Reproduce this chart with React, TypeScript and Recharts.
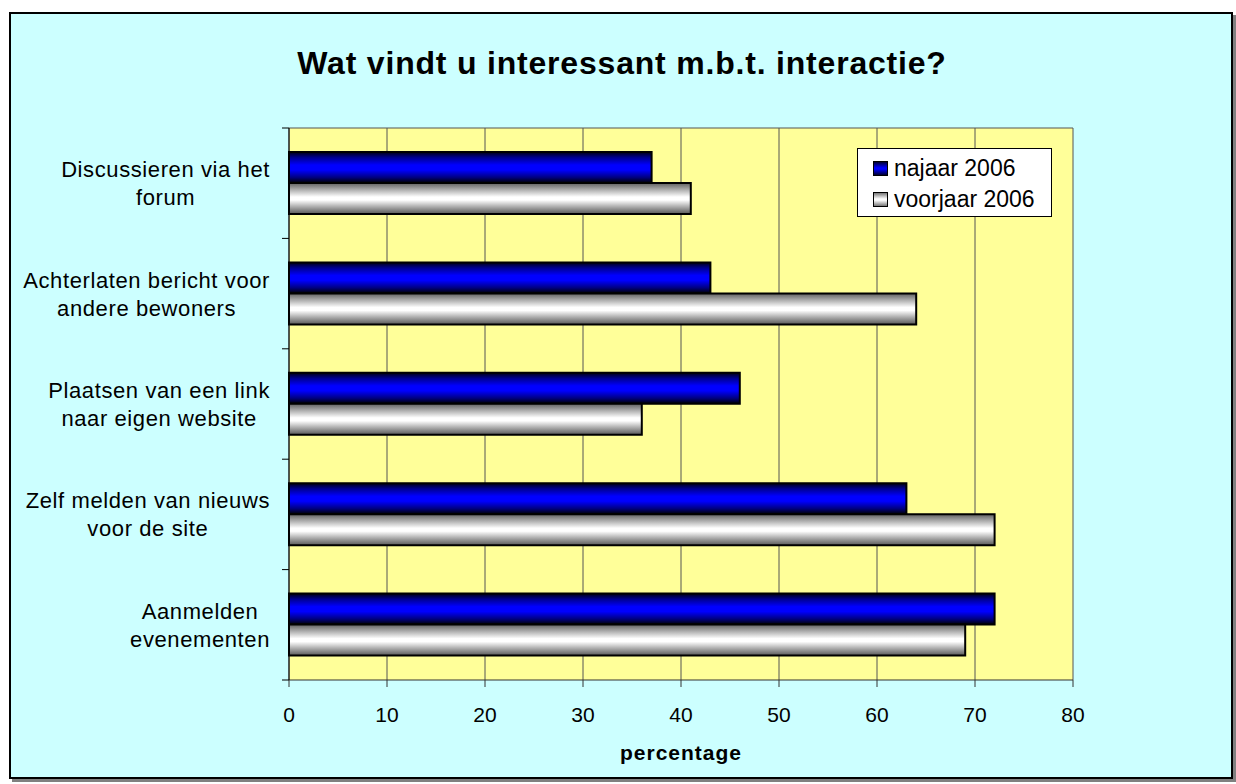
import React from 'react';
import {
  BarChart,
  Bar,
  XAxis,
  YAxis,
  CartesianGrid,
  Legend,
} from 'recharts';

// values
const categories = [
  'Discussieren via het forum',
  'Achterlaten bericht voor andere bewoners',
  'Plaatsen van een link naar eigen website',
  'Zelf melden van nieuws voor de site',
  'Aanmelden evenementen',
];
const categoryLines = [
  ['Discussieren via het', 'forum'],
  ['Achterlaten bericht voor', 'andere bewoners'],
  ['Plaatsen van een link', 'naar eigen website'],
  ['Zelf melden van nieuws', 'voor de site'],
  ['Aanmelden', 'evenementen'],
];
const najaar2006 = [37, 43, 46, 63, 72];
const voorjaar2006 = [41, 64, 36, 72, 69];
const xTicks = [0, 10, 20, 30, 40, 50, 60, 70, 80];

const data = categories.map((c, i) => ({
  label: c,
  najaar: najaar2006[i],
  voorjaar: voorjaar2006[i],
}));

const W = 1236;
const H = 784;
const PLOT_LEFT = 289;
const PLOT_RIGHT = 1073;
const PLOT_TOP = 128;
const PLOT_BOTTOM = 680;
const BAND = (PLOT_BOTTOM - PLOT_TOP) / categories.length;
const FONT = "'Liberation Sans', Arial, sans-serif";
const LABEL_SIZE = 22;
const LABEL_SPACING = 0.6;

let ctx: CanvasRenderingContext2D | null = null;
const measure = (s: string) => {
  if (!ctx) ctx = document.createElement('canvas').getContext('2d');
  if (!ctx) return s.length * 10;
  ctx.font = `${LABEL_SIZE}px ${FONT}`;
  return ctx.measureText(s).width + s.length * LABEL_SPACING;
};

const CategoryTick = (props: any) => {
  const { y, payload, index } = props;
  const lines = categoryLines[index] || [payload.value];
  const widest = Math.max(...lines.map(measure));
  const cx = PLOT_LEFT - 19 - widest / 2;
  return (
    <g>
      <line x1={PLOT_LEFT - 7} x2={PLOT_LEFT} y1={y - BAND / 2} y2={y - BAND / 2} stroke="#000" />
      {index === categories.length - 1 && (
        <line x1={PLOT_LEFT - 7} x2={PLOT_LEFT} y1={y + BAND / 2} y2={y + BAND / 2} stroke="#000" />
      )}
      <text
        x={cx}
        y={y}
        textAnchor="middle"
        fill="#000"
        style={{ fontFamily: FONT, fontSize: LABEL_SIZE, letterSpacing: LABEL_SPACING }}
      >
        {lines.map((l, i) => (
          <tspan key={i} x={cx} y={y - 6 + i * 28}>
            {l}
          </tspan>
        ))}
      </text>
    </g>
  );
};

const markerBg: Record<string, string> = {
  najaar: 'linear-gradient(#000030, #0000ff 45%, #0000ff 55%, #000030)',
  voorjaar: 'linear-gradient(#777, #fff 45%, #fff 55%, #777)',
};

const LegendBox = (props: any) => {
  const { payload } = props;
  return (
    <div
      style={{
        width: 195,
        height: 69,
        boxSizing: 'border-box',
        border: '1px solid #000',
        background: '#fff',
        paddingTop: 4,
        paddingLeft: 15,
        fontFamily: FONT,
        fontSize: 23,
        color: '#000',
      }}
    >
      {(payload || []).map((p: any) => (
        <div key={p.dataKey} style={{ display: 'flex', alignItems: 'center', height: 31, lineHeight: '31px' }}>
          <span
            style={{
              display: 'inline-block',
              width: 15,
              height: 15,
              boxSizing: 'border-box',
              border: '1px solid #000',
              background: markerBg[p.dataKey],
              marginRight: 6,
            }}
          />
          <span>{p.value}</span>
        </div>
      ))}
    </div>
  );
};

export default function App() {
  return (
    <div style={{ position: 'absolute', left: 0, top: 0, width: W, height: H, background: '#fff' }}>
      <div
        style={{
          position: 'absolute',
          left: 9,
          top: 12,
          width: 1224,
          height: 767,
          boxSizing: 'border-box',
          border: '2px solid #000',
          background: '#CCFFFF',
          boxShadow: '3px 3px 0 #808080',
        }}
      />
      <div
        style={{
          position: 'absolute',
          left: 4,
          top: 47,
          width: W,
          textAlign: 'center',
          fontFamily: FONT,
          fontWeight: 'bold',
          fontSize: 32,
          lineHeight: '32px',
          letterSpacing: 0.8,
          color: '#000',
        }}
      >
        Wat vindt u interessant m.b.t. interactie?
      </div>
      <div style={{ position: 'absolute', left: 0, top: 0 }}>
        <BarChart
          width={W}
          height={H}
          data={data}
          layout="vertical"
          margin={{ top: PLOT_TOP, right: W - PLOT_RIGHT, bottom: 0, left: 0 }}
          barGap={0}
        >
          <defs>
            <linearGradient id="gradBlue" x1="0" y1="0" x2="0" y2="1">
              <stop offset="0%" stopColor="#000010" />
              <stop offset="18%" stopColor="#000090" />
              <stop offset="42%" stopColor="#0000ff" />
              <stop offset="58%" stopColor="#0000ff" />
              <stop offset="82%" stopColor="#000080" />
              <stop offset="100%" stopColor="#000000" />
            </linearGradient>
            <linearGradient id="gradWhite" x1="0" y1="0" x2="0" y2="1">
              <stop offset="0%" stopColor="#606060" />
              <stop offset="20%" stopColor="#a8a8a8" />
              <stop offset="45%" stopColor="#ffffff" />
              <stop offset="55%" stopColor="#ffffff" />
              <stop offset="80%" stopColor="#a0a0a0" />
              <stop offset="100%" stopColor="#585858" />
            </linearGradient>
          </defs>
          <CartesianGrid
            fill="#FFFF99"
            fillOpacity={1}
            stroke="#555"
            horizontal={true}
            horizontalPoints={[PLOT_TOP]}
            vertical={true}
          />
          <XAxis
            type="number"
            domain={[0, 80]}
            ticks={xTicks}
            interval={0}
            height={H - PLOT_BOTTOM}
            stroke="#333"
            tickSize={7}
            tickMargin={20}
            tick={{ fill: '#000', fontSize: 21, fontFamily: FONT }}
            label={{
              value: 'percentage',
              position: 'insideBottom',
              offset: 24,
              style: { fill: '#000', fontSize: 21, fontWeight: 'bold', fontFamily: FONT, letterSpacing: 1 },
            }}
          />
          <YAxis
            type="category"
            dataKey="label"
            width={PLOT_LEFT}
            stroke="#000"
            tickLine={false}
            interval={0}
            tick={<CategoryTick />}
          />
          <Legend
            layout="vertical"
            align="center"
            verticalAlign="middle"
            wrapperStyle={{ position: 'absolute', left: 857, top: 148, width: 195, height: 69 }}
            content={<LegendBox />}
          />
          <Bar
            dataKey="najaar"
            name="najaar 2006"
            fill="url(#gradBlue)"
            stroke="#000"
            strokeWidth={2}
            barSize={31}
            isAnimationActive={false}
          />
          <Bar
            dataKey="voorjaar"
            name="voorjaar 2006"
            fill="url(#gradWhite)"
            stroke="#000"
            strokeWidth={2}
            barSize={31}
            isAnimationActive={false}
          />
        </BarChart>
      </div>
    </div>
  );
}
